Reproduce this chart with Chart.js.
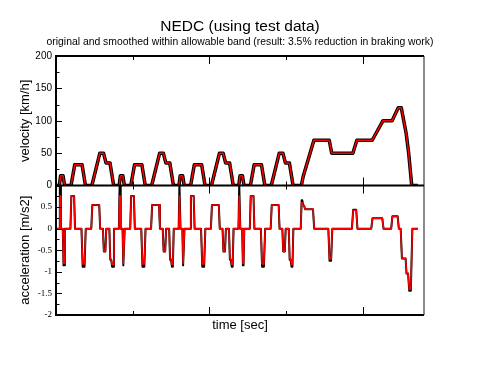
<!DOCTYPE html>
<html>
<head>
<meta charset="utf-8">
<script src="https://cdn.jsdelivr.net/npm/chart.js@4/dist/chart.umd.min.js"></script>
<style>
  html, body { margin: 0; padding: 0; background: #fff; }
  #wrap { width: 480px; height: 371px; }
</style>
</head>
<body>
<div id="wrap"><canvas id="nedc" width="480" height="371"></canvas></div>
<script>
// ---- DATA (NEDC: 4x ECE-15 + EUDC) ----
// velocity breakpoints [s] and values [km/h]
const velTime = [
    0, 11, 15, 23, 28, 49, 61, 85, 96, 117, 143, 155, 163, 176, 188,
    195, 206, 210, 218, 223, 244, 256, 280, 291, 312, 338, 350, 358, 371, 383,
    390, 401, 405, 413, 418, 439, 451, 475, 486, 507, 533, 545, 553, 566, 578,
    585, 596, 600, 608, 613, 634, 646, 670, 681, 702, 728, 740, 748, 761, 773,
    780, 800, 806, 841, 891, 899, 968, 981, 1031, 1066, 1096, 1116, 1126, 1142, 1150, 1160, 1180
];
const velOriginal = [
    0, 0, 15, 15, 0, 0, 32, 32, 0, 0, 50, 50, 35, 35, 0,
    0, 0, 15, 15, 0, 0, 32, 32, 0, 0, 50, 50, 35, 35, 0,
    0, 0, 15, 15, 0, 0, 32, 32, 0, 0, 50, 50, 35, 35, 0,
    0, 0, 15, 15, 0, 0, 32, 32, 0, 0, 50, 50, 35, 35, 0,
    0, 0, 14, 70, 70, 50, 50, 70, 70, 100, 100, 120, 120, 80, 50, 0, 0
];
const velSmoothed = [
    0, 0, 15, 15, 0, 0, 32, 32, 0, 0, 50, 50, 35, 35, 0,
    0, 0, 15, 15, 0, 0, 32, 32, 0, 0, 50, 50, 35, 35, 0,
    0, 0, 15, 15, 0, 0, 32, 32, 0, 0, 50, 50, 35, 35, 0,
    0, 0, 15, 15, 0, 0, 32, 32, 0, 0, 50, 50, 35, 35, 0,
    0, 0, 14, 70, 70, 50, 50, 70, 70, 100, 100, 120, 120, 80, 50, 0, 0
];

// acceleration breakpoints [s] and values [m/s2]
const accTime = [
    0, 10, 12.5, 14, 16, 22, 24.5, 26.5, 29, 47, 50, 59, 62, 83, 87, 93, 97, 115, 118.5, 141, 144, 153, 156, 161, 164, 174, 177, 180, 183, 186, 189,
    195, 205, 207.5, 209, 211, 217, 219.5, 221.5, 224, 242, 245, 254, 257, 278, 282, 288, 292, 310, 313.5, 336, 339, 348, 351, 356, 359, 369, 372, 375, 378, 381, 384,
    390, 400, 402.5, 404, 406, 412, 414.5, 416.5, 419, 437, 440, 449, 452, 473, 477, 483, 487, 505, 508.5, 531, 534, 543, 546, 551, 554, 564, 567, 570, 573, 576, 579,
    585, 595, 597.5, 599, 601, 607, 609.5, 611.5, 614, 632, 635, 644, 647, 668, 672, 678, 682, 700, 703.5, 726, 729, 738, 741, 746, 749, 759, 762, 765, 768, 771, 774,
    780, 798, 801, 803, 806, 809, 812, 838, 842, 888, 892, 897, 901, 965, 969, 979, 983, 1028, 1032, 1064, 1068, 1093, 1097, 1114, 1118, 1124, 1128, 1140, 1143, 1148, 1152, 1157, 1162, 1180
];
const accOriginal = [
    0, 0, 1.04, 1.04, 0, 0, -0.85, -0.85, 0, 0, 0.76, 0.76, 0, 0, -0.88, -0.88, 0, 0, 0.55, 0.55, 0, 0, -0.53, -0.53, 0, 0, -0.72, -0.72, -0.88, -0.88, 0,
    0, 0, 1.04, 1.04, 0, 0, -0.85, -0.85, 0, 0, 0.76, 0.76, 0, 0, -0.88, -0.88, 0, 0, 0.55, 0.55, 0, 0, -0.53, -0.53, 0, 0, -0.72, -0.72, -0.88, -0.88, 0,
    0, 0, 1.04, 1.04, 0, 0, -0.85, -0.85, 0, 0, 0.76, 0.76, 0, 0, -0.88, -0.88, 0, 0, 0.55, 0.55, 0, 0, -0.53, -0.53, 0, 0, -0.72, -0.72, -0.88, -0.88, 0,
    0, 0, 1.04, 1.04, 0, 0, -0.85, -0.85, 0, 0, 0.76, 0.76, 0, 0, -0.88, -0.88, 0, 0, 0.55, 0.55, 0, 0, -0.53, -0.53, 0, 0, -0.72, -0.72, -0.88, -0.88, 0,
    0, 0, 0.66, 0.66, 0.54, 0.54, 0.45, 0.45, 0, 0, -0.74, -0.74, 0, 0, 0.44, 0.44, 0, 0, 0.24, 0.24, 0, 0, 0.29, 0.29, 0, 0, -0.69, -0.69, -1.04, -1.04, -1.44, -1.44, 0, 0
];
const accSmoothed = [
    0, 0, 0.76, 0.76, 0, 0, -0.8, -0.8, 0, 0, 0.76, 0.76, 0, 0, -0.82, -0.82, 0, 0, 0.55, 0.55, 0, 0, -0.53, -0.53, 0, 0, -0.7, -0.7, -0.83, -0.83, 0,
    0, 0, 0.76, 0.76, 0, 0, -0.8, -0.8, 0, 0, 0.76, 0.76, 0, 0, -0.82, -0.82, 0, 0, 0.55, 0.55, 0, 0, -0.53, -0.53, 0, 0, -0.7, -0.7, -0.83, -0.83, 0,
    0, 0, 0.76, 0.76, 0, 0, -0.8, -0.8, 0, 0, 0.76, 0.76, 0, 0, -0.82, -0.82, 0, 0, 0.55, 0.55, 0, 0, -0.53, -0.53, 0, 0, -0.7, -0.7, -0.83, -0.83, 0,
    0, 0, 0.76, 0.76, 0, 0, -0.8, -0.8, 0, 0, 0.76, 0.76, 0, 0, -0.82, -0.82, 0, 0, 0.55, 0.55, 0, 0, -0.53, -0.53, 0, 0, -0.7, -0.7, -0.83, -0.83, 0,
    0, 0, 0.6, 0.6, 0.54, 0.54, 0.45, 0.45, 0, 0, -0.7, -0.7, 0, 0, 0.43, 0.43, 0, 0, 0.24, 0.24, 0, 0, 0.28, 0.28, 0, 0, -0.69, -0.69, -1.03, -1.03, -1.4, -1.4, 0, 0
];

// ---- TICKS ----
const VEL_TICKS = [0, 50, 100, 150, 200];
const VEL_MINOR = [25, 75, 125, 175];
const ACC_TICKS = [-2, -1.5, -1, -0.5, 0, 0.5];
const ACC_MINOR = [-1.75, -1.25, -0.75, -0.25, 0.25, 0.75];
const TIME_MAJOR = [500, 1000];
const TIME_MINOR = [250, 750];

const toPoints = (ts, vs) => ts.map((t, i) => ({ x: t, y: vs[i] }));

Chart.defaults.font.family = "'Liberation Sans', Arial, sans-serif";
Chart.defaults.color = '#000';

// inward ticks + frame, grace style
const panelFrame = {
    id: 'panelFrame',
    afterDatasetsDraw(chart) {
        const { ctx, chartArea: a, scales: { x, yv, ya } } = chart;
        ctx.save();
        ctx.strokeStyle = '#000';
        ctx.lineWidth = 1;
        const line = (x0, y0, x1, y1) => {
            ctx.beginPath(); ctx.moveTo(x0, y0); ctx.lineTo(x1, y1); ctx.stroke();
        };
        // y ticks
        VEL_TICKS.forEach(v => { const p = Math.round(yv.getPixelForValue(v)) + 0.5; line(a.left, p, a.left + 6, p); });
        VEL_MINOR.forEach(v => { const p = Math.round(yv.getPixelForValue(v)) + 0.5; line(a.left, p, a.left + 3.5, p); });
        ACC_TICKS.forEach(v => { const p = Math.round(ya.getPixelForValue(v)) + 0.5; line(a.left, p, a.left + 6, p); });
        ACC_MINOR.forEach(v => { const p = Math.round(ya.getPixelForValue(v)) + 0.5; line(a.left, p, a.left + 3.5, p); });
        // x ticks on both edges of each panel
        const xt = (list, len) => list.forEach(t => {
            const p = Math.round(x.getPixelForValue(t)) + 0.5;
            [yv, ya].forEach(s => {
                line(p, s.top, p, s.top + len);
                line(p, s.bottom, p, s.bottom - len);
            });
        });
        xt(TIME_MAJOR, 8);
        xt(TIME_MINOR, 4);
        // frame
        ctx.strokeStyle = '#8a8a8a';
        ctx.lineWidth = 2;
        line(a.right, a.top, a.right, a.bottom);
        ctx.strokeStyle = '#000';
        line(a.left, a.top - 1, a.left, a.bottom + 1);
        line(a.left, a.top, a.right, a.top);
        line(a.left, a.bottom, a.right, a.bottom);
        line(a.left, yv.bottom, a.right, yv.bottom);
        ctx.restore();
    }
};

new Chart(document.getElementById('nedc'), {
    type: 'line',
    data: {
        datasets: [
            { label: 'velocity original', data: toPoints(velTime, velOriginal), yAxisID: 'yv',
              borderColor: '#000', borderWidth: 3.5, order: 2 },
            { label: 'velocity smoothed', data: toPoints(velTime, velSmoothed), yAxisID: 'yv',
              borderColor: '#ff0000', borderWidth: 1.5, order: 1 },
            { label: 'acceleration original', data: toPoints(accTime, accOriginal), yAxisID: 'ya',
              borderColor: '#000', borderWidth: 2, order: 2 },
            { label: 'acceleration smoothed', data: toPoints(accTime, accSmoothed), yAxisID: 'ya',
              borderColor: '#ff0000', borderWidth: 1.5, order: 1 }
        ]
    },
    options: {
        responsive: false,
        animation: false,
        events: [],
        layout: { padding: 0 },
        elements: { point: { radius: 0 }, line: { tension: 0, borderJoinStyle: 'round' } },
        plugins: {
            legend: { display: false },
            tooltip: { enabled: false },
            title: {
                display: true,
                text: 'NEDC (using test data)',
                font: { size: 15.5, weight: 'normal' },
                padding: { top: 17, bottom: 0 }
            },
            subtitle: {
                display: true,
                text: 'original and smoothed within allowable band (result: 3.5% reduction in braking work)',
                font: { size: 10.4 },
                color: '#000',
                padding: { top: 0, bottom: 8 }
            }
        },
        scales: {
            x: {
                type: 'linear',
                min: 0,
                max: 1200,
                ticks: { display: false },
                grid: { display: false, drawTicks: false },
                border: { display: false },
                title: { display: true, text: 'time [sec]', font: { size: 13 }, padding: { top: 0, bottom: 38 } },
                afterFit: s => { s.height = 56; }
            },
            ya: {
                type: 'linear',
                position: 'left',
                stack: 'panels',
                stackWeight: 1,
                min: -2,
                max: 1,
                afterBuildTicks: s => { s.ticks = ACC_TICKS.map(v => ({ value: v })); },
                ticks: {
                    padding: 4,
                    font: { family: "'Liberation Serif', 'Times New Roman', serif", size: 9 },
                    callback: v => String(v)
                },
                grid: { display: false, drawTicks: false },
                border: { display: false },
                title: { display: true, text: 'acceleration [m/s2]', font: { size: 13 }, padding: { top: 18, bottom: 0 } },
                afterFit: s => { s.width = 56; }
            },
            yv: {
                type: 'linear',
                position: 'left',
                stack: 'panels',
                stackWeight: 1,
                min: 0,
                max: 200,
                afterBuildTicks: s => { s.ticks = VEL_TICKS.map(v => ({ value: v })); },
                ticks: { padding: 4, font: { size: 10 }, callback: v => String(v) },
                grid: { display: false, drawTicks: false },
                border: { display: false },
                title: { display: true, text: 'velocity [km/h]', font: { size: 13 }, padding: { top: 18, bottom: 0 } },
                afterFit: s => { s.width = 56; }
            },
            // empty right margin so the plot ends at the same place as the reference
            yr: {
                type: 'linear',
                position: 'right',
                min: 0,
                max: 1,
                ticks: { display: false },
                grid: { display: false, drawTicks: false },
                border: { display: false },
                afterFit: s => { s.width = 56; }
            }
        }
    },
    plugins: [panelFrame]
});
</script>
</body>
</html>
